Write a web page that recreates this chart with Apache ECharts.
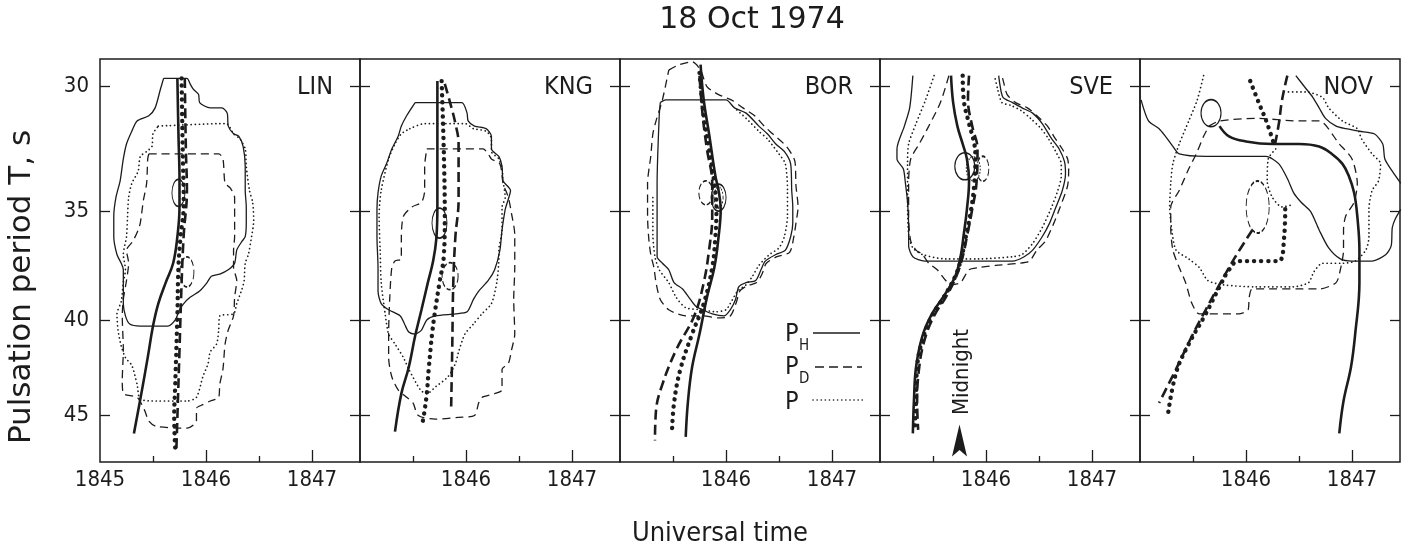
<!DOCTYPE html>
<html lang="en">
<head>
<meta charset="UTF-8">
<title>18 Oct 1974</title>
<script src="https://cdn.jsdelivr.net/npm/echarts@6.0.0/dist/echarts.min.js"></script>
</head>
<body style="margin:0;background:#fff">
<div id="main" style="width:1403px;height:555px"></div>
<script type="text/javascript">
// [time UT (1845 = 18:45), period T in s]
var yTicks = [30, 35, 40, 45];
var stations = ['LIN', 'KNG', 'BOR', 'SVE', 'NOV'];

// ---- LIN
var linSolid = [[1845.60,29.7],[1845.82,29.7],[1845.85,29.9],[1845.88,30.1],[1845.93,30.3],[1845.94,30.6],[1846.04,30.8],[1846.15,30.8],[1846.20,31.0],[1846.21,31.5],[1846.26,31.8],[1846.31,31.9],[1846.35,32.3],[1846.37,33.1],[1846.37,34.1],[1846.38,34.8],[1846.38,35.5],[1846.37,36.1],[1846.34,36.3],[1846.29,36.7],[1846.27,37.3],[1846.21,37.6],[1846.13,37.8],[1846.05,37.9],[1846.01,38.2],[1845.94,38.6],[1845.85,38.9],[1845.79,39.2],[1845.75,39.5],[1845.71,40.0],[1845.64,40.3],[1845.52,40.3],[1845.38,40.3],[1845.28,40.2],[1845.24,39.8],[1845.22,39.2],[1845.22,37.6],[1845.20,37.3],[1845.16,36.9],[1845.13,36.1],[1845.13,35.2],[1845.15,34.4],[1845.19,33.7],[1845.22,32.8],[1845.25,32.2],[1845.30,31.7],[1845.35,31.3],[1845.46,31.1],[1845.52,30.8],[1845.57,30.1]];
var linDot = [[1845.55,31.5],[1846.19,31.4],[1846.26,31.8],[1846.32,32.0],[1846.37,32.4],[1846.38,33.1],[1846.41,34.1],[1846.44,34.6],[1846.45,35.4],[1846.43,36.1],[1846.40,36.9],[1846.37,37.3],[1846.36,38.1],[1846.34,38.5],[1846.29,39.2],[1846.26,39.7],[1846.13,39.8],[1846.12,40.5],[1846.10,41.2],[1846.04,41.6],[1846.02,42.2],[1845.97,42.9],[1845.91,44.0],[1845.82,44.2],[1845.53,44.2],[1845.38,44.1],[1845.35,43.3],[1845.30,42.3],[1845.24,41.9],[1845.20,41.3],[1845.17,40.5],[1845.16,39.7],[1845.20,39.1],[1845.22,38.2],[1845.24,37.6],[1845.22,36.9],[1845.25,36.1],[1845.26,35.2],[1845.27,34.4],[1845.30,33.8],[1845.36,33.3],[1845.38,32.7],[1845.44,32.5],[1845.49,32.3],[1845.50,31.8]];
var linDash = [[1845.46,32.6],[1846.12,32.6],[1846.16,32.8],[1846.18,33.8],[1846.23,34.0],[1846.27,34.4],[1846.27,36.1],[1846.26,36.7],[1846.26,37.5],[1846.29,38.1],[1846.27,38.9],[1846.26,39.8],[1846.21,40.5],[1846.18,41.2],[1846.16,42.5],[1846.13,43.3],[1846.12,44.0],[1846.04,44.2],[1845.97,44.4],[1845.91,44.6],[1845.91,45.3],[1845.82,45.7],[1845.53,45.6],[1845.46,45.3],[1845.42,44.7],[1845.35,44.0],[1845.22,43.8],[1845.21,43.1],[1845.22,41.5],[1845.21,39.8],[1845.22,39.0],[1845.25,38.1],[1845.27,37.3],[1845.25,36.7],[1845.31,36.3],[1845.36,35.8],[1845.38,35.5],[1845.41,34.5],[1845.44,33.8],[1845.45,32.8]];
var linRidgeH = [[1845.73,29.7],[1845.74,31.8],[1845.75,33.7],[1845.75,34.8],[1845.73,36.1],[1845.69,37.3],[1845.62,38.2],[1845.55,39.2],[1845.50,40.3],[1845.45,41.9],[1845.39,43.8],[1845.32,46.0]];
var linRidgeP = [[1845.77,29.7],[1845.78,32.4],[1845.79,34.7],[1845.76,36.1],[1845.74,37.5],[1845.73,39.8],[1845.71,43.3],[1845.70,45.1],[1845.71,46.9]];
var linRidgeD = [[1845.80,29.7],[1845.81,32.4],[1845.82,34.1],[1845.79,36.0],[1845.77,38.2],[1845.75,41.5],[1845.73,45.1],[1845.72,47.0]];
var linOvalH = [[1845.74,34.2]];
var linOvalD = [[1845.82,37.7]];

// ---- KNG
var kngSolid = [[1845.52,30.6],[1845.96,30.6],[1846.01,31.0],[1846.02,31.3],[1846.08,31.5],[1846.19,31.6],[1846.24,31.9],[1846.24,32.4],[1846.31,32.7],[1846.34,33.1],[1846.35,33.7],[1846.42,34.1],[1846.39,34.6],[1846.37,34.9],[1846.34,35.8],[1846.32,36.7],[1846.27,37.6],[1846.21,38.1],[1846.12,38.6],[1846.07,39.0],[1846.01,39.6],[1845.90,39.7],[1845.71,39.8],[1845.63,40.0],[1845.58,40.5],[1845.52,40.7],[1845.46,40.6],[1845.42,40.2],[1845.38,39.8],[1845.27,39.5],[1845.20,39.2],[1845.17,38.6],[1845.17,37.5],[1845.16,36.1],[1845.16,34.9],[1845.17,34.2],[1845.20,33.5],[1845.25,33.0],[1845.30,32.4],[1845.36,31.9],[1845.39,31.5],[1845.44,31.1]];
var kngDot = [[1845.47,31.6],[1845.61,31.4],[1845.99,31.4],[1846.07,31.6],[1846.19,31.7],[1846.24,32.0],[1846.24,32.5],[1846.31,32.8],[1846.34,33.2],[1846.35,33.7],[1846.37,34.4],[1846.34,34.8],[1846.34,35.8],[1846.31,36.7],[1846.31,37.1],[1846.29,38.2],[1846.24,39.2],[1846.15,39.7],[1846.07,40.2],[1845.99,40.7],[1845.93,41.6],[1845.90,42.2],[1845.83,42.9],[1845.72,43.4],[1845.63,43.8],[1845.57,43.6],[1845.46,42.5],[1845.41,41.9],[1845.33,41.2],[1845.27,40.7],[1845.24,39.8],[1845.20,38.2],[1845.19,36.7],[1845.18,35.2],[1845.20,34.1],[1845.27,32.8],[1845.33,32.2],[1845.39,31.8]];
var kngDash = [[1845.63,32.4],[1846.16,32.4],[1846.21,32.6],[1846.24,32.8],[1846.32,33.0],[1846.35,33.8],[1846.40,34.4],[1846.43,35.1],[1846.46,36.0],[1846.46,37.5],[1846.45,39.0],[1846.46,40.7],[1846.43,41.5],[1846.40,42.2],[1846.34,42.5],[1846.34,43.6],[1846.27,43.8],[1846.15,44.0],[1846.12,44.3],[1846.08,45.0],[1845.93,45.1],[1845.71,45.2],[1845.55,45.0],[1845.50,44.3],[1845.44,44.0],[1845.36,43.6],[1845.30,42.9],[1845.27,41.9],[1845.27,40.7],[1845.28,39.0],[1845.30,37.5],[1845.33,37.2],[1845.39,37.1],[1845.39,36.1],[1845.41,35.2],[1845.49,34.8],[1845.58,34.6],[1845.61,34.1],[1845.61,33.1]];
var kngRidgeH = [[1845.73,29.8],[1845.73,34.8],[1845.72,36.2],[1845.69,37.2],[1845.64,38.2],[1845.58,39.5],[1845.52,40.8],[1845.46,42.4],[1845.39,43.8],[1845.33,45.9]];
var kngRidgeP = [[1845.77,29.8],[1845.79,32.4],[1845.80,35.2],[1845.79,37.0],[1845.75,38.2],[1845.71,39.5],[1845.68,40.7],[1845.65,42.4],[1845.63,43.8],[1845.61,44.7],[1845.59,45.4]];
var kngRidgeD = [[1845.80,29.9],[1845.85,30.6],[1845.90,31.4],[1845.93,32.2],[1845.93,34.5],[1845.90,36.1],[1845.88,38.2],[1845.87,41.5],[1845.86,44.5]];
var kngOvalH = [[1845.75,35.5]];
var kngOvalD = [[1845.85,37.9]];

// ---- BOR
var borSolid = [[1845.38,30.6],[1845.43,30.5],[1846.00,30.5],[1846.08,30.8],[1846.19,31.0],[1846.31,31.5],[1846.39,31.8],[1846.47,32.2],[1846.55,32.5],[1846.61,33.0],[1846.62,34.1],[1846.63,34.8],[1846.63,35.5],[1846.61,36.1],[1846.56,36.7],[1846.47,36.9],[1846.37,37.2],[1846.33,37.6],[1846.28,38.1],[1846.19,38.2],[1846.12,38.4],[1846.09,39.0],[1846.04,39.5],[1845.98,39.8],[1845.87,39.7],[1845.78,39.5],[1845.71,39.3],[1845.65,38.9],[1845.59,38.5],[1845.51,38.2],[1845.46,37.6],[1845.40,37.3],[1845.35,37.0],[1845.35,33.8],[1845.37,31.1]];
var borDash = [[1845.46,29.4],[1845.56,29.2],[1845.68,29.1],[1845.76,29.4],[1845.82,30.0],[1845.93,30.3],[1846.05,30.5],[1846.16,30.8],[1846.27,31.1],[1846.36,31.5],[1846.44,31.8],[1846.57,32.3],[1846.65,32.9],[1846.66,33.9],[1846.68,34.8],[1846.66,35.5],[1846.64,36.1],[1846.60,36.8],[1846.48,37.0],[1846.38,37.3],[1846.34,37.8],[1846.29,38.2],[1846.20,38.35],[1846.13,38.6],[1846.10,39.1],[1846.04,39.8],[1845.93,39.9],[1845.78,39.8],[1845.62,39.8],[1845.46,39.5],[1845.38,39.0],[1845.34,38.2],[1845.32,37.5],[1845.29,36.9],[1845.27,36.1],[1845.26,35.2],[1845.26,33.8],[1845.29,32.7],[1845.31,31.8],[1845.34,31.3],[1845.40,30.5]];
var borDot = [[1845.31,34.4],[1845.31,36.0],[1845.33,37.0],[1845.37,37.6],[1845.46,38.2],[1845.53,38.9],[1845.62,39.4],[1845.78,39.5],[1845.90,39.6],[1846.00,39.5],[1846.04,39.2],[1846.11,38.6],[1846.19,38.3],[1846.25,37.9],[1846.31,37.4],[1846.41,36.9],[1846.50,36.6],[1846.55,36.1],[1846.58,35.2],[1846.58,34.1],[1846.56,33.0],[1846.50,32.6],[1846.39,32.0],[1846.31,31.7],[1846.19,31.2],[1846.08,30.8]];
var borRidgeH = [[1845.76,29.2],[1845.79,30.5],[1845.84,31.8],[1845.90,33.5],[1845.93,34.1],[1845.95,34.9],[1845.93,36.1],[1845.89,37.5],[1845.82,38.9],[1845.75,40.7],[1845.68,42.4],[1845.64,44.3],[1845.62,46.2]];
var borRidgeP = [[1845.75,29.5],[1845.79,31.1],[1845.84,32.4],[1845.89,33.8],[1845.91,34.9],[1845.90,36.1],[1845.87,37.5],[1845.79,39.2],[1845.68,40.7],[1845.57,42.5],[1845.51,44.3],[1845.49,46.0]];
var borRidgeD = [[1845.75,29.6],[1845.78,31.1],[1845.82,32.4],[1845.87,33.8],[1845.87,35.2],[1845.84,36.7],[1845.79,38.2],[1845.70,39.8],[1845.53,41.5],[1845.40,43.3],[1845.34,44.7],[1845.33,46.4]];
var borOvalH = [[1845.93,34.4]];
var borOvalP = [[1845.93,34.4]];
var borOvalD = [[1845.81,34.2]];

// ---- SVE
var sveSolid = [[1845.31,29.6],[1845.28,30.8],[1845.23,31.5],[1845.16,32.4],[1845.16,32.8],[1845.22,33.2],[1845.24,33.8],[1845.26,34.6],[1845.27,35.7],[1845.27,36.5],[1845.31,37.0],[1845.42,37.2],[1845.75,37.2],[1846.03,37.2],[1846.25,37.2],[1846.36,37.0],[1846.44,36.7],[1846.53,36.1],[1846.60,35.5],[1846.66,34.8],[1846.72,34.1],[1846.75,33.4],[1846.74,32.9],[1846.69,32.4],[1846.62,32.0],[1846.53,31.4],[1846.44,31.0],[1846.34,30.8],[1846.25,30.6],[1846.16,30.4],[1846.13,29.9],[1846.12,29.6]];
var sveDash = [[1845.65,29.6],[1845.57,30.6],[1845.46,31.5],[1845.37,32.2],[1845.29,32.8],[1845.27,33.8],[1845.27,35.2],[1845.29,36.3],[1845.34,36.7],[1845.40,36.9],[1845.46,37.3],[1845.54,37.6],[1845.62,38.1],[1845.67,38.3],[1845.76,38.2],[1845.84,37.6],[1845.93,37.5],[1846.09,37.4],[1846.31,37.3],[1846.41,37.2],[1846.48,36.7],[1846.56,36.3],[1846.64,35.5],[1846.70,34.8],[1846.77,33.9],[1846.78,33.2],[1846.77,32.8],[1846.72,32.4],[1846.64,31.9],[1846.58,31.5],[1846.48,31.1],[1846.39,30.8],[1846.28,30.6],[1846.20,30.3],[1846.17,29.9],[1846.15,29.6]];
var sveDot = [[1845.51,29.6],[1845.43,30.5],[1845.34,31.4],[1845.27,32.2],[1845.26,33.0],[1845.26,34.5],[1845.27,36.0],[1845.31,36.6],[1845.40,36.9],[1845.62,37.1],[1845.93,37.1],[1846.25,37.0],[1846.34,36.9],[1846.44,36.4],[1846.53,35.7],[1846.61,34.9],[1846.67,34.2],[1846.71,33.5],[1846.71,33.0],[1846.67,32.6],[1846.59,32.0],[1846.52,31.6],[1846.42,31.2],[1846.33,30.9],[1846.23,30.7],[1846.15,30.6],[1846.11,30.1],[1846.08,29.6]];
var sveRidgeH = [[1845.67,29.6],[1845.69,30.6],[1845.73,31.5],[1845.78,32.2],[1845.82,32.8],[1845.84,33.7],[1845.82,34.9],[1845.79,36.0],[1845.76,37.0],[1845.71,37.9],[1845.62,38.7],[1845.49,39.7],[1845.40,40.8],[1845.34,42.4],[1845.32,44.2],[1845.31,46.0]];
var sveRidgeP = [[1845.78,29.6],[1845.79,30.5],[1845.84,31.4],[1845.89,32.2],[1845.90,32.8],[1845.89,33.8],[1845.86,34.9],[1845.81,36.1],[1845.77,37.0],[1845.71,37.9],[1845.60,38.9],[1845.49,39.8],[1845.40,41.0],[1845.35,42.4],[1845.34,44.2],[1845.33,45.6]];
var sveRidgeD = [[1845.84,29.6],[1845.83,30.5],[1845.87,31.5],[1845.92,32.4],[1845.91,33.8],[1845.87,34.9],[1845.82,36.1],[1845.78,37.0],[1845.72,37.9],[1845.62,38.9],[1845.51,39.8],[1845.42,41.0],[1845.37,42.4],[1845.35,44.2],[1845.36,45.8]];
var sveOvalH = [[1845.80,33.1]];
var sveOvalP = [[1845.88,33.2]];
var sveOvalD = [[1845.97,33.2]];
var sveMidnight = [[1845.75,46.4]];

// ---- NOV
var novSolidA = [[1845.01,30.5],[1845.08,31.3],[1845.18,31.6],[1845.24,31.9],[1845.31,32.3],[1845.37,32.6],[1845.62,32.7],[1845.93,32.7],[1846.19,32.7],[1846.31,33.0],[1846.39,33.6],[1846.45,34.2],[1846.52,34.6],[1846.61,35.0],[1846.69,35.8],[1846.78,36.6],[1846.89,37.1],[1847.00,37.2],[1847.19,37.2],[1847.32,36.9],[1847.37,36.5],[1847.38,35.7],[1847.41,35.3],[1847.46,34.9]];
var novSolidB = [[1847.46,33.8],[1847.38,33.3],[1847.31,32.8],[1847.29,32.2],[1847.21,31.8],[1847.07,31.7],[1846.94,31.6],[1846.85,31.5],[1846.75,31.2],[1846.69,30.8],[1846.63,30.4],[1846.55,30.0],[1846.47,29.6]];
var novDot = [[1845.60,29.6],[1845.54,30.5],[1845.46,31.3],[1845.37,32.2],[1845.31,33.0],[1845.29,33.8],[1845.28,34.8],[1845.30,35.8],[1845.34,36.7],[1845.46,37.1],[1845.56,37.5],[1845.64,38.1],[1845.78,38.3],[1846.09,38.4],[1846.44,38.4],[1846.59,38.2],[1846.64,37.7],[1846.72,37.3],[1846.91,37.3],[1847.03,37.2],[1847.13,36.7],[1847.16,36.1],[1847.16,34.9],[1847.19,34.1],[1847.25,33.7],[1847.27,33.0],[1847.19,32.6],[1847.09,32.0],[1847.05,31.6],[1846.91,31.3],[1846.78,30.8],[1846.72,30.4],[1846.56,30.2],[1846.37,30.2]];
var novDotLoop = [[1846.28,32.4],[1846.21,32.8],[1846.20,33.7],[1846.25,34.4],[1846.34,34.8],[1846.44,34.7]];
var novDash = [[1845.65,31.5],[1845.75,31.3],[1846.09,31.2],[1846.50,31.3],[1846.69,31.3],[1846.88,32.2],[1847.00,32.8],[1847.05,33.8],[1847.02,34.6],[1846.94,35.2],[1846.92,35.8],[1846.92,36.7],[1846.89,37.6],[1846.85,38.2],[1846.69,38.5],[1846.06,38.5],[1846.03,38.9],[1846.02,39.5],[1845.93,39.7],[1845.56,39.7],[1845.49,39.2],[1845.43,38.2],[1845.37,37.5],[1845.31,36.7],[1845.29,35.7],[1845.29,34.8],[1845.37,34.1],[1845.46,33.2],[1845.53,32.6],[1845.60,31.9]];
var novRidgeH = [[1845.75,31.5],[1845.84,31.9],[1846.00,32.1],[1846.25,32.2],[1846.50,32.2],[1846.69,32.3],[1846.81,32.6],[1846.91,33.0],[1846.97,33.5],[1847.02,34.2],[1847.05,35.2],[1847.07,36.7],[1847.07,38.2],[1847.03,40.7],[1846.99,42.4],[1846.92,44.2],[1846.88,46.0]];
var novRidgePTop = [[1846.04,29.8],[1846.12,30.6],[1846.20,31.4],[1846.27,32.3]];
var novRidgePLow = [[1846.37,34.9],[1846.36,36.1],[1846.31,37.2],[1846.19,37.2],[1845.93,37.2],[1845.84,37.6],[1845.75,38.4],[1845.62,39.7],[1845.46,41.2],[1845.34,42.7],[1845.26,45.1]];
var novRidgeDTop = [[1846.39,29.6],[1846.34,30.5],[1846.31,31.4],[1846.27,32.3]];
var novRidgeDLow = [[1846.06,35.8],[1845.90,37.0],[1845.76,38.2],[1845.62,39.5],[1845.49,40.8],[1845.34,42.5],[1845.18,44.3]];
var novOvalH = [[1845.67,31.0]];
var novOvalD = [[1846.11,34.8]];

var INK = '#1c1c1c';
var FONT = "'DejaVu Sans Condensed', 'DejaVu Sans', sans-serif";
var FONT_WIDE = "'DejaVu Sans', sans-serif";
var STYLES = {
    thinSolid: {width: 1.3, type: 'solid'},
    thinDash: {width: 1.3, type: [8, 5]},
    thinDot: {width: 1.7, type: [0.1, 4], cap: 'round'},
    thickSolid: {width: 2.6, type: 'solid'},
    thickDash: {width: 2.6, type: [10, 5]},
    thickDot: {width: 4.4, type: [0.1, 7], cap: 'round'}
};

// [data, style, closed]
var panels = [
    {lines: [[linSolid, 'thinSolid', 1], [linDot, 'thinDot', 1], [linDash, 'thinDash', 1],
             [linRidgeH, 'thickSolid'], [linRidgeP, 'thickDot'], [linRidgeD, 'thickDash']],
     ovals: [[linOvalH, 'solid', [13, 27]], [linOvalD, 'dashed', [14, 30]]]},
    {lines: [[kngSolid, 'thinSolid', 1], [kngDot, 'thinDot', 1], [kngDash, 'thinDash', 1],
             [kngRidgeH, 'thickSolid'], [kngRidgeP, 'thickDot'], [kngRidgeD, 'thickDash']],
     ovals: [[kngOvalH, 'solid', [15, 30]], [kngOvalD, 'dashed', [16, 27]]]},
    {lines: [[borSolid, 'thinSolid', 1], [borDash, 'thinDash', 1], [borDot, 'thinDot'],
             [borRidgeH, 'thickSolid'], [borRidgeP, 'thickDot'], [borRidgeD, 'thickDash']],
     ovals: [[borOvalH, 'solid', [15, 27]], [borOvalP, 'dotted', [9, 21]], [borOvalD, 'dashed', [14, 24]]]},
    {lines: [[sveSolid, 'thinSolid'], [sveDash, 'thinDash'], [sveDot, 'thinDot'],
             [sveRidgeH, 'thickSolid'], [sveRidgeP, 'thickDot'], [sveRidgeD, 'thickDash']],
     ovals: [[sveOvalH, 'solid', [20, 27]], [sveOvalP, 'dotted', [14, 24]], [sveOvalD, 'dashed', [12, 25]]]},
    {lines: [[novSolidA, 'thinSolid'], [novSolidB, 'thinSolid'], [novDot, 'thinDot'], [novDotLoop, 'thinDot'],
             [novDash, 'thinDash', 1], [novRidgeH, 'thickSolid'], [novRidgePTop, 'thickDot'], [novRidgePLow, 'thickDot'],
             [novRidgeDTop, 'thickDash'], [novRidgeDLow, 'thickDash']],
     ovals: [[novOvalH, 'solid', [20, 27]], [novOvalD, 'dashed', [23, 52]]]}
];

var chart = echarts.init(document.getElementById('main'));
var W = 260, TOP = 59, H = 403;
var xMin = 1845, xMax = 1845 + W / 106;
var yMin = Math.log(29.0), yMax = Math.log(47.65);
var yTickVals = yTicks.map(function (v) { return Math.log(v); });

var grids = [], xAxes = [], yAxes = [], series = [], graphics = [];

stations.forEach(function (name, k) {
    var left = 100 + W * k;
    grids.push({left: left, top: TOP, width: W, height: H, show: true, borderColor: INK, borderWidth: 1.5});
    xAxes.push({
        gridIndex: k, type: 'value', position: 'bottom', min: xMin, max: xMax,
        axisLine: {show: false}, splitLine: {show: false},
        axisTick: {inside: true, length: 12, customValues: [1846, 1847], lineStyle: {color: INK, width: 1.3}},
        axisLabel: {customValues: k === 0 ? [1845, 1846, 1847] : [1846, 1847], margin: 7,
            formatter: function (v) { return String(Math.round(v)); },
            fontSize: 22, fontFamily: FONT, color: INK}
    });
    xAxes.push({
        gridIndex: k, type: 'value', position: 'bottom', min: xMin, max: xMax,
        axisLine: {show: false}, splitLine: {show: false}, axisLabel: {show: false},
        axisTick: {inside: true, length: 6, customValues: [1845.5, 1846.5], lineStyle: {color: INK, width: 1.3}}
    });
    ['left', 'right'].forEach(function (pos) {
        yAxes.push({
            gridIndex: k, type: 'value', position: pos, inverse: true, min: yMin, max: yMax,
            axisLine: {show: false}, splitLine: {show: false},
            axisTick: {inside: true, length: 10, customValues: yTickVals, lineStyle: {color: INK, width: 1.3}},
            axisLabel: {show: k === 0 && pos === 'left', customValues: yTickVals, margin: 11,
                formatter: function (v) { return String(Math.round(Math.exp(v))); },
                fontSize: 22, fontFamily: FONT, color: INK}
        });
    });

    panels[k].lines.forEach(function (ln) {
        var pts = ln[0].map(function (p) { return [p[0], Math.log(p[1])]; });
        if (ln[2]) pts.push(pts[0]);
        var thick = ln[1].indexOf('thick') === 0;
        series.push({
            type: 'line', xAxisIndex: 2 * k, yAxisIndex: 2 * k, data: pts,
            symbol: 'none', smooth: thick ? 0.4 : 0.25, silent: true, z: thick ? 4 : 3,
            lineStyle: Object.assign({color: INK, opacity: 1}, STYLES[ln[1]])
        });
    });
    panels[k].ovals.forEach(function (ov) {
        series.push({
            type: 'scatter', xAxisIndex: 2 * k, yAxisIndex: 2 * k, silent: true, z: 5,
            data: ov[0].map(function (p) { return [p[0], Math.log(p[1])]; }),
            symbol: 'circle', symbolSize: ov[2],
            itemStyle: {color: 'rgba(0,0,0,0)', borderColor: INK, borderWidth: 1.3, borderType: ov[1], opacity: 1}
        });
    });

    graphics.push({type: 'text', x: left + W - 27, y: 87,
        style: {text: name, fontSize: 25, fontFamily: FONT, fill: INK, align: 'right', verticalAlign: 'middle'}});
});

// midnight marker on SVE
series.push({
    type: 'scatter', xAxisIndex: 6, yAxisIndex: 6, silent: true, z: 6,
    data: sveMidnight.map(function (p) { return [p[0], Math.log(p[1])]; }),
    symbol: 'path://M5,0 L10,10 L5,8 L0,10 Z', symbolSize: [15, 32], itemStyle: {color: INK, opacity: 1}
});

graphics.push(
    {type: 'text', x: 752, y: 20, style: {text: '18 Oct 1974', fontSize: 30, fontFamily: FONT_WIDE, fill: INK, align: 'center', verticalAlign: 'middle'}},
    {type: 'text', x: 720, y: 534, style: {text: 'Universal time', fontSize: 27, fontFamily: FONT, fill: INK, align: 'center', verticalAlign: 'middle'}},
    {type: 'text', x: 22, y: 287, rotation: Math.PI / 2, style: {text: 'Pulsation period T, s', fontSize: 31, fontFamily: FONT_WIDE, fill: INK, align: 'center', verticalAlign: 'middle'}},
    {type: 'text', x: 962, y: 372, rotation: Math.PI / 2, style: {text: 'Midnight', fontSize: 22, fontFamily: FONT, fill: INK, align: 'center', verticalAlign: 'middle'}},
    // legend in BOR
    {type: 'text', x: 785, y: 334, style: {text: 'P', fontSize: 25, fontFamily: FONT, fill: INK, verticalAlign: 'middle'}},
    {type: 'text', x: 799, y: 346, style: {text: 'H', fontSize: 15, fontFamily: FONT, fill: INK, verticalAlign: 'middle'}},
    {type: 'line', shape: {x1: 813, y1: 333, x2: 860, y2: 333}, style: {stroke: INK, lineWidth: 1.3}},
    {type: 'text', x: 785, y: 367, style: {text: 'P', fontSize: 25, fontFamily: FONT, fill: INK, verticalAlign: 'middle'}},
    {type: 'text', x: 799, y: 379, style: {text: 'D', fontSize: 15, fontFamily: FONT, fill: INK, verticalAlign: 'middle'}},
    {type: 'line', shape: {x1: 815, y1: 367, x2: 862, y2: 367}, style: {stroke: INK, lineWidth: 1.3, lineDash: [9, 5]}},
    {type: 'text', x: 785, y: 402, style: {text: 'P', fontSize: 25, fontFamily: FONT, fill: INK, verticalAlign: 'middle'}},
    {type: 'line', shape: {x1: 813, y1: 400, x2: 865, y2: 400}, style: {stroke: INK, lineWidth: 1.6, lineDash: [0.1, 4], lineCap: 'round'}}
);

chart.setOption({
    backgroundColor: '#fff',
    animation: false,
    grid: grids,
    xAxis: xAxes,
    yAxis: yAxes,
    series: series,
    graphic: graphics
});
</script>
</body>
</html>
